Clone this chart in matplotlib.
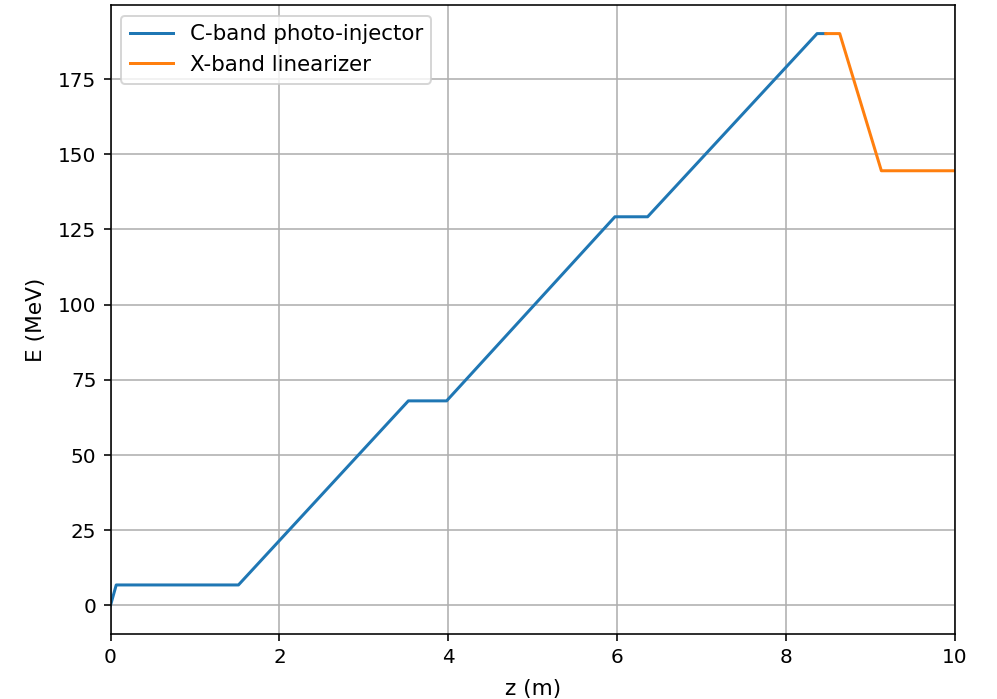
import matplotlib
matplotlib.use('Agg')
import matplotlib.pyplot as plt

# beamline energy profile
c_band_z = [0.0, 0.068, 1.515, 3.527, 3.98, 5.973, 6.36, 8.367, 8.47]
c_band_energy = [0.0, 6.8, 6.8, 68.0, 68.0, 129.2, 129.2, 190.1, 190.1]

x_band_z = [8.47, 8.635, 9.128, 10.0]
x_band_energy = [190.1, 190.1, 144.5, 144.5]

DPI = 144

figure = plt.figure(figsize=(997 / DPI, 699 / DPI), dpi=DPI)
axes = figure.add_axes([110.5 / 997, 1 - 634 / 699, (955 - 110.5) / 997, (634 - 5) / 699])

axes.plot(c_band_z, c_band_energy, label='C-band photo-injector')
axes.plot(x_band_z, x_band_energy, label='X-band linearizer')

axes.set_xlim(0, 10)
axes.set_xlabel('z (m)', fontsize=10.8, labelpad=6)
axes.set_ylabel('E (MeV)', fontsize=10.8, labelpad=6)
axes.grid(True)
axes.legend(loc='upper left', fontsize=10.7)

figure.savefig('out.png', dpi=DPI)
